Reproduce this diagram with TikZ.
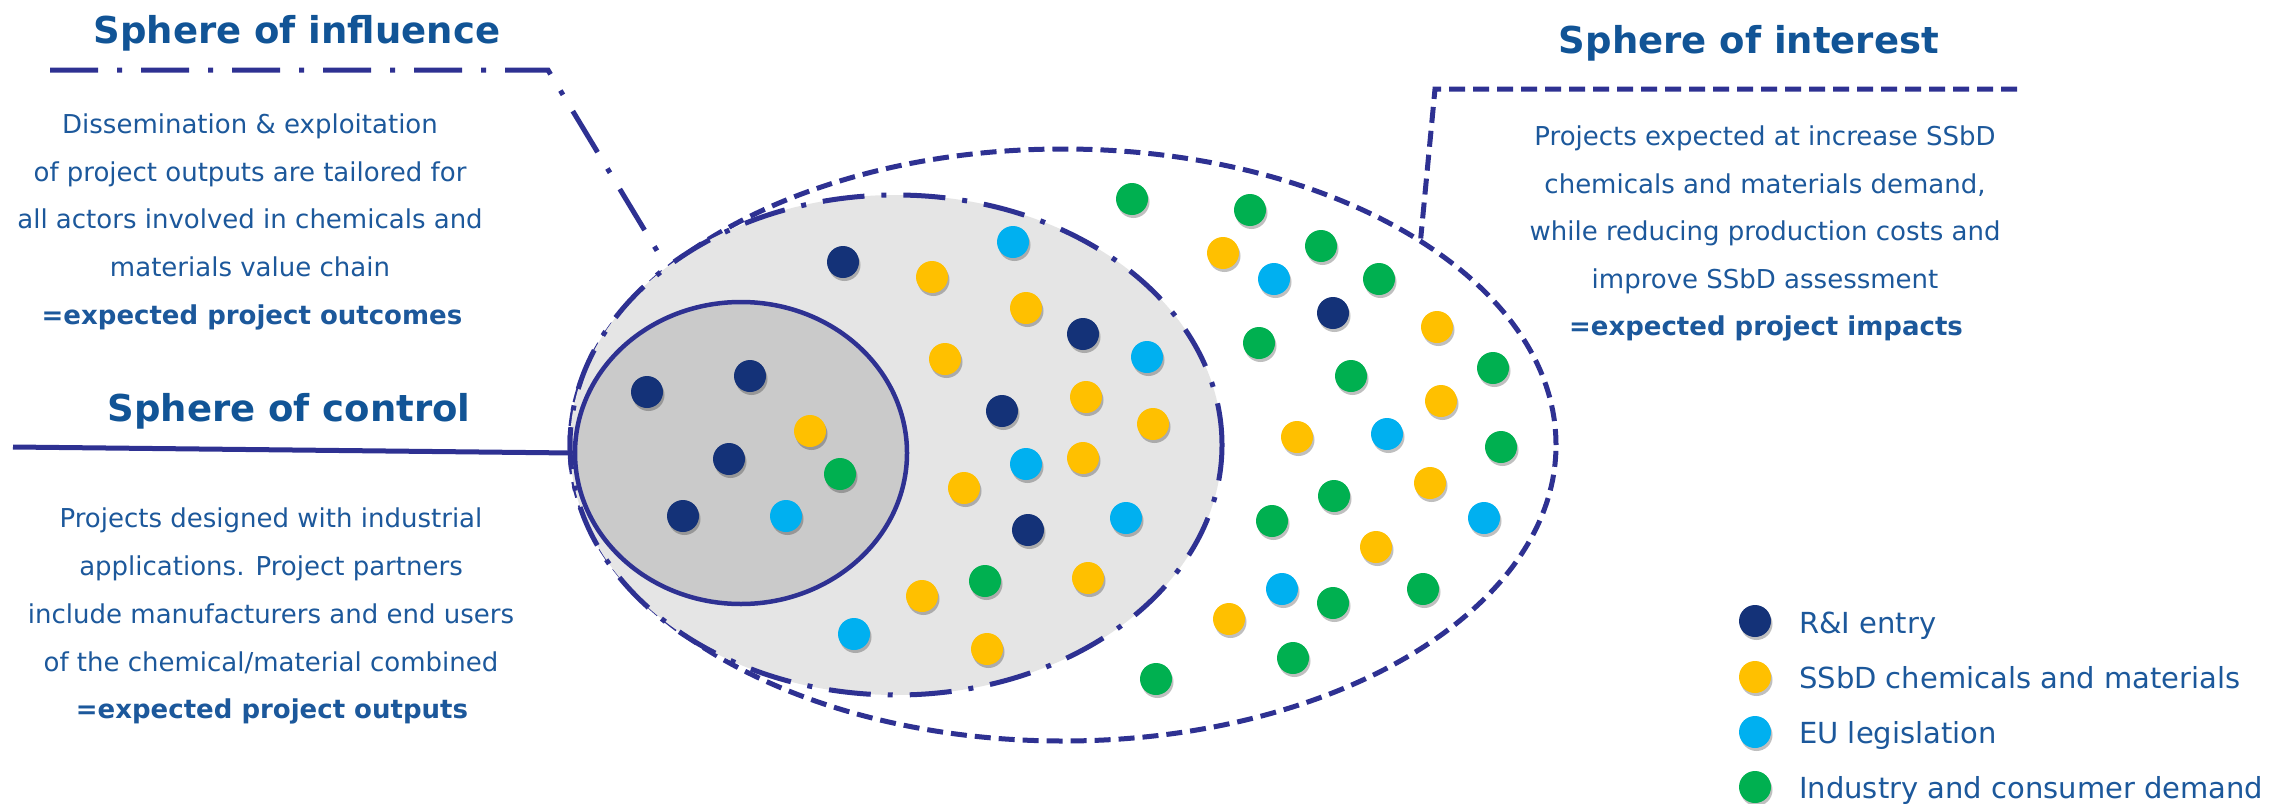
\documentclass[tikz,border=0pt]{standalone}
\usepackage{fontspec}
\setmainfont{DejaVu Sans}
\usetikzlibrary{shapes.geometric,shadows}
\definecolor{linecol}{RGB}{46,49,146}
\definecolor{titlecol}{RGB}{17,84,150}
\definecolor{textcol}{RGB}{28,88,155}
\definecolor{ringgray}{RGB}{229,229,229}
\definecolor{coregray}{RGB}{202,202,202}
\definecolor{cnavy}{RGB}{20,50,120}
\definecolor{cyellow}{RGB}{255,192,0}
\definecolor{ccyan}{RGB}{0,176,240}
\definecolor{cgreen}{RGB}{0,176,80}
\begin{document}
\begin{tikzpicture}[x=1pt,y=-1pt,
  ttl/.style={font=\fontsize{37}{44}\selectfont\bfseries, text=titlecol, anchor=base, inner sep=0},
  body/.style={font=\fontsize{26}{30}\selectfont, text=textcol, anchor=base, inner sep=0},
  bodyb/.style={font=\fontsize{26}{30}\selectfont\bfseries, text=textcol, anchor=base, inner sep=0},
  legtext/.style={font=\fontsize{29}{34}\selectfont, text=textcol, anchor=base west, inner sep=0},
  ball/.style={circle, inner sep=0, minimum size=32pt,
    drop shadow={shadow xshift=1.5pt, shadow yshift=-3pt, opacity=0.25, fill=black}},
  ballN/.style={ball, fill=cnavy},
  ballY/.style={ball, fill=cyellow},
  ballC/.style={ball, fill=ccyan},
  ballG/.style={ball, fill=cgreen},
  sphere/.style={ellipse, inner sep=0, draw=linecol},
  lead/.style={draw=linecol, line width=5pt},
  dashdotA/.style={dash pattern=on 48pt off 19pt on 5pt off 19pt},
  dashdotB/.style={dash pattern=on 42pt off 17pt on 5pt off 17pt},
  dashB/.style={dash pattern=on 16pt off 8pt}
]
\useasboundingbox (0,0) rectangle (2275,803);

% spheres
\node[sphere, line width=5pt, dashB, fill=white, minimum width=986pt, minimum height=592pt] (outer) at (1063,445) {};
\node[sphere, line width=5pt, dashdotB, fill=ringgray, minimum width=652pt, minimum height=500pt] (mid) at (896,445) {};
\node[sphere, line width=4.5pt, fill=coregray, minimum width=332pt, minimum height=302pt] (inner) at (741,453) {};

% leaders
\coordinate (inflA) at (50,70);
\coordinate (inflB) at (548,70);
\draw[lead, dashdotA] (inflA) -- (inflB) -- (mid.142.3);
\coordinate (intA) at (2017,89);
\coordinate (intB) at (1435,89);
\draw[lead, dashB] (intA) -- (intB) -- (outer.30.9);
\coordinate (ctlA) at (13,447);
\draw[lead] (ctlA) -- (inner.west);

% dots: core
\foreach \x/\y [count=\k] in {647/392, 750/376, 729/459, 683/516} \node[ballN] (cn\k) at (\x,\y) {};
\node[ballY] (cy1) at (810,431) {};
\node[ballG] (cg1) at (840,474) {};
\node[ballC] (cc1) at (786,516) {};

% dots: ring
\foreach \x/\y [count=\k] in {843/262, 1083/334, 1002/411, 1028/530} \node[ballN] (rn\k) at (\x,\y) {};
\foreach \x/\y [count=\k] in {932/277, 1026/308, 945/359, 1086/397, 1153/424, 1083/458, 964/488, 922/596, 1088/578, 987/649} \node[ballY] (ry\k) at (\x,\y) {};
\foreach \x/\y [count=\k] in {1013/242, 1147/357, 1026/464, 1126/518, 854/634} \node[ballC] (rc\k) at (\x,\y) {};
\node[ballG] (rg1) at (985,581) {};

% dots: outer
\node[ballN] (on1) at (1333,313) {};
\foreach \x/\y [count=\k] in {1223/253, 1437/327, 1441/401, 1297/437, 1430/483, 1376/547, 1229/619} \node[ballY] (oy\k) at (\x,\y) {};
\foreach \x/\y [count=\k] in {1274/279, 1387/434, 1484/518, 1282/589} \node[ballC] (oc\k) at (\x,\y) {};
\foreach \x/\y [count=\k] in {1132/199, 1250/210, 1321/246, 1379/279, 1259/343, 1351/376, 1493/368, 1501/447, 1334/496, 1272/521, 1333/603, 1423/589, 1293/658, 1156/679} \node[ballG] (og\k) at (\x,\y) {};

% titles
\node[ttl] (tinfl) at (297,43) {Sphere of influence};
\node[ttl] (tctl) at (289,421) {Sphere of control};
\node[ttl] (tint) at (1749,53) {Sphere of interest};

% influence text
\node[body] (i1) at (250,133) {Dissemination \& exploitation};
\node[body] (i2) at (250,181) {of project outputs are tailored for};
\node[body] (i3) at (250,228) {all actors involved in chemicals and};
\node[body] (i4) at (250,276) {materials value chain};
\node[bodyb] (i5) at (252,324) {=expected project outcomes};

% control text
\node[body] (c1) at (271,527) {Projects designed with industrial};
\node[body] (c2) at (271,575) {applications. Project partners};
\node[body] (c3) at (271,623) {include manufacturers and end users};
\node[body] (c4) at (271,671) {of the chemical/material combined};
\node[bodyb] (c5) at (272,718) {=expected project outputs};

% interest text
\node[body] (n1) at (1765,145) {Projects expected at increase SSbD};
\node[body] (n2) at (1765,193) {chemicals and materials demand,};
\node[body] (n3) at (1765,240) {while reducing production costs and};
\node[body] (n4) at (1765,288) {improve SSbD assessment};
\node[bodyb] (n5) at (1766,335) {=expected project impacts};

% legend
\node[ballN] (lg1) at (1755,621) {};
\node[ballY] (lg2) at (1755,677) {};
\node[ballC] (lg3) at (1755,732) {};
\node[ballG] (lg4) at (1755,787) {};
\node[legtext] (lt1) at (1799,633) {R\&I entry};
\node[legtext] (lt2) at (1799,688) {SSbD chemicals and materials};
\node[legtext] (lt3) at (1799,743) {EU legislation};
\node[legtext] (lt4) at (1799,798) {Industry and consumer demand};
\end{tikzpicture}
\end{document}
